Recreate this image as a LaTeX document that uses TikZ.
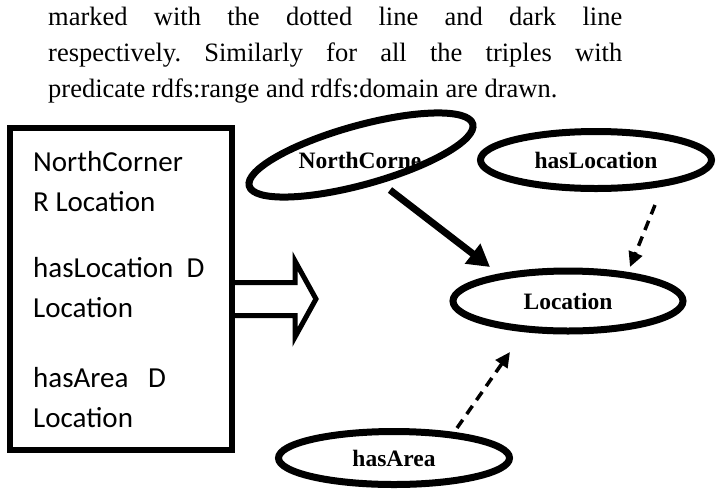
\documentclass[tikz,border=0pt]{standalone}
\usepackage{fontspec}
\setmainfont{Liberation Serif}
\newfontfamily\boxfont{Carlito}
\usetikzlibrary{arrows.meta,shapes.geometric,calc}
\frenchspacing

\begin{document}
\begin{tikzpicture}[x=1pt,y=-1pt,
  para/.style={anchor=base west, inner sep=0pt, font=\fontsize{26.5}{30}\selectfont},
  boxtxt/.style={anchor=base west, inner sep=0pt, font=\boxfont\fontsize{29}{34}\selectfont},
  ovaltxt/.style={inner sep=0pt, font=\bfseries\fontsize{23.5}{26}\selectfont},
  oval/.style={ellipse, draw, line width=7pt, ovaltxt},
  solidlink/.style={line width=7pt, -{Triangle[length=22pt,width=24pt]}},
  dashlink/.style={line width=3.5pt, dash pattern=on 10pt off 7pt,
                   -{Triangle[length=15pt,width=14pt]}},
  ]
\useasboundingbox (0,0) rectangle (723,488);

% running text above the figure
\node[para] (l1) at (48,25) {\makebox[574pt][s]{marked with the dotted line and dark line}};
\node[para] (l2) at (48,61.5) {\makebox[574pt][s]{respectively. Similarly for all the triples with}};
\node[para] (l3) at (48,97) {predicate rdfs:range and rdfs:domain are drawn.};

% list of triples
\node[draw, line width=6pt, minimum width=222pt, minimum height=322pt, inner sep=0pt] (box) at (121,289) {};
\node[boxtxt] (t1) at (33,171) {NorthCorner};
\node[boxtxt] (t2) at (33,211) {R Location};
\node[boxtxt] (t3) at (33,277) {hasLocation\ \ D};
\node[boxtxt] (t4) at (33,317) {Location};
\node[boxtxt] (t5) at (33,387) {hasArea\ \ \ D};
\node[boxtxt] (t6) at (33,427) {Location};

% hollow block arrow leaving the box
\draw[line width=5pt, line join=miter, miter limit=10]
  ($(box.east)+(-3,-6.5)$) -- ++(63,0) -- ++(0,-21.5) -- ++(21,38)
  -- ++(-21,38) -- ++(0,-21.5) -- ++(-63,0);

% graph
\node[oval, minimum width=232pt, minimum height=59pt, rotate=15.5] (nc) at (361,155) {};
\node[ovaltxt] (ncl) at (360,160) {NorthCorne};
\node[oval, minimum width=231pt, minimum height=57pt] (hl) at (596,160) {hasLocation};
\node[oval, minimum width=230pt, minimum height=60pt] (loc) at (568,301) {Location};
\node[oval, minimum width=231pt, minimum height=53pt] (ha) at (394,458) {hasArea};

\draw[solidlink] ($(nc.center)+(29,35)$) -- ($(loc.center)+(-78,-34)$);
\draw[dashlink] ($(hl.center)+(59,45)$) -- ($(loc.center)+(62,-34)$);
\draw[dashlink] ($(ha.center)+(63,-30)$) -- ($(loc.center)+(-58,51)$);
\end{tikzpicture}
\end{document}
